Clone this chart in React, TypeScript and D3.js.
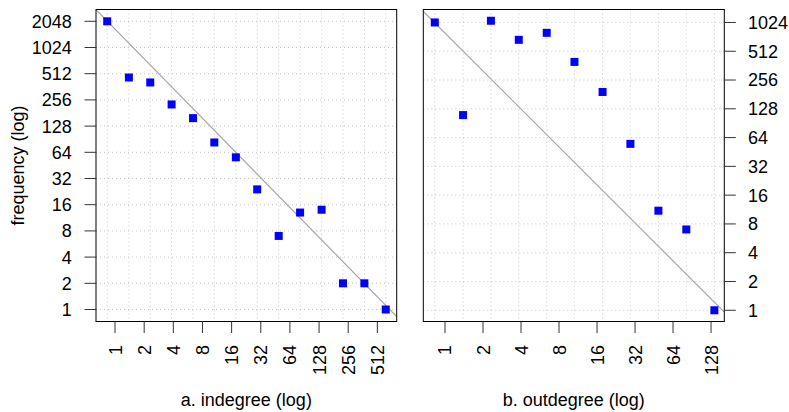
import * as d3 from "d3";

// degree bins (log-spaced bin centres) shared by both panels
const degreeBins = [0.83, 1.39, 2.31, 3.84, 6.39, 10.6, 17.7, 29.4, 49, 81.5, 136, 226, 376, 625];

const indegreeFreq = [2048, 463, 406, 227, 158, 83, 56, 24, 7, 13, 14, 2, 2, 1];
const outdegreeFreq = [1024, 110, 1067, 674, 798, 396, 192, 55, 11, 7, 1];

const indegreeTicks = [1, 2, 4, 8, 16, 32, 64, 128, 256, 512];
const outdegreeTicks = [1, 2, 4, 8, 16, 32, 64, 128];
const indegreeFreqTicks = [1, 2, 4, 8, 16, 32, 64, 128, 256, 512, 1024, 2048];
const outdegreeFreqTicks = [1, 2, 4, 8, 16, 32, 64, 128, 256, 512, 1024];

// fitted power law, log2(y) = a + b * log2(x)
const indegreeFit = { a: 10.7, b: -1.135 };
const outdegreeFit = { a: 9.63, b: -1.319 };

const FONT = "'Liberation Sans', Arial, Helvetica, sans-serif";
const FS = 18;

type PanelProps = {
  id: string;
  x0: number;
  x1: number;
  xDomain: [number, number];
  yDomain: [number, number];
  xs: number[];
  ys: number[];
  xTicks: number[];
  yTicks: number[];
  fit: { a: number; b: number };
  title: string;
  axisSide: "left" | "right";
};

const TOP = 9.5;
const BOTTOM = 321.5;

function Panel(p: PanelProps) {
  const x = d3.scaleLog().base(2).domain(p.xDomain).range([p.x0, p.x1]);
  const y = d3.scaleLog().base(2).domain(p.yDomain).range([BOTTOM, TOP]);
  const pts = p.ys.map((v, i) => ({ x: degreeBins[i], y: v }));

  const fitY = (xv: number) => Math.pow(2, p.fit.a + p.fit.b * Math.log2(xv));
  const line = d3.line<number>().x((d) => x(d)).y((d) => y(fitY(d)));

  const sq = 8;
  const tickLen = 11.5;

  return (
    <g>
      <defs>
        <clipPath id={p.id}>
          <rect x={p.x0} y={TOP} width={p.x1 - p.x0} height={BOTTOM - TOP} />
        </clipPath>
      </defs>
      {/* grid */}
      <g stroke="#c4c4c4" strokeWidth={1} strokeDasharray="1 3">
        {p.yTicks.map((t) => (
          <line key={"h" + t} x1={p.x0} x2={p.x1} y1={y(t)} y2={y(t)} />
        ))}
        {pts.map((d, i) => (
          <line key={"v" + i} x1={x(d.x)} x2={x(d.x)} y1={TOP} y2={BOTTOM} />
        ))}
      </g>
      {/* fit line */}
      <path
        d={line(p.xDomain) || ""}
        stroke="#a6a6a6"
        strokeWidth={1.2}
        fill="none"
        clipPath={`url(#${p.id})`}
      />
      {/* points */}
      {pts.map((d, i) => (
        <rect
          key={i}
          x={x(d.x) - sq / 2}
          y={y(d.y) - sq / 2}
          width={sq}
          height={sq}
          fill="#0000ff"
        />
      ))}
      <rect
        x={p.x0}
        y={TOP}
        width={p.x1 - p.x0}
        height={BOTTOM - TOP}
        fill="none"
        stroke="#000"
        strokeWidth={1}
      />
      {/* x axis */}
      {p.xTicks.map((t) => (
        <g key={"xt" + t}>
          <line x1={x(t)} x2={x(t)} y1={BOTTOM} y2={BOTTOM + tickLen} stroke="#333" />
          <text
            transform={`translate(${x(t)},345) rotate(-90)`}
            textAnchor="end"
            dy="0.36em"
            fontSize={FS}
            fontFamily={FONT}
          >
            {t}
          </text>
        </g>
      ))}
      <text
        x={(p.x0 + p.x1) / 2}
        y={406}
        textAnchor="middle"
        fontSize={FS}
        fontFamily={FONT}
      >
        {p.title}
      </text>
      {/* y axis */}
      {p.yTicks.map((t) => {
        const left = p.axisSide === "left";
        const ex = left ? p.x0 : p.x1;
        return (
          <g key={"yt" + t}>
            <line
              x1={ex}
              x2={left ? ex - tickLen : ex + tickLen}
              y1={y(t)}
              y2={y(t)}
              stroke="#333"
            />
            <text
              x={left ? 71.7 : 748}
              y={y(t)}
              dy="0.36em"
              textAnchor={left ? "end" : "start"}
              fontSize={FS}
              fontFamily={FONT}
            >
              {t}
            </text>
          </g>
        );
      })}
    </g>
  );
}

export default function App() {
  return (
    <svg
      width={789}
      height={412}
      style={{ position: "absolute", left: 0, top: 0, background: "#fff" }}
    >
      <rect width={789} height={412} fill="#fff" />
      <Panel
        id="clipA"
        x0={96}
        x1={396.7}
        xDomain={[0.636, 811]}
        yDomain={[0.728, 2798]}
        xs={degreeBins}
        ys={indegreeFreq}
        xTicks={indegreeTicks}
        yTicks={indegreeFreqTicks}
        fit={indegreeFit}
        title="a. indegree (log)"
        axisSide="left"
      />
      <Panel
        id="clipB"
        x0={423.3}
        x1={724.3}
        xDomain={[0.673, 163]}
        yDomain={[0.763, 1399]}
        xs={degreeBins}
        ys={outdegreeFreq}
        xTicks={outdegreeTicks}
        yTicks={outdegreeFreqTicks}
        fit={outdegreeFit}
        title="b. outdegree (log)"
        axisSide="right"
      />
      <text
        transform={`translate(24,${(TOP + BOTTOM) / 2}) rotate(-90)`}
        textAnchor="middle"
        fontSize={FS}
        fontFamily={FONT}
      >
        frequency (log)
      </text>
    </svg>
  );
}
